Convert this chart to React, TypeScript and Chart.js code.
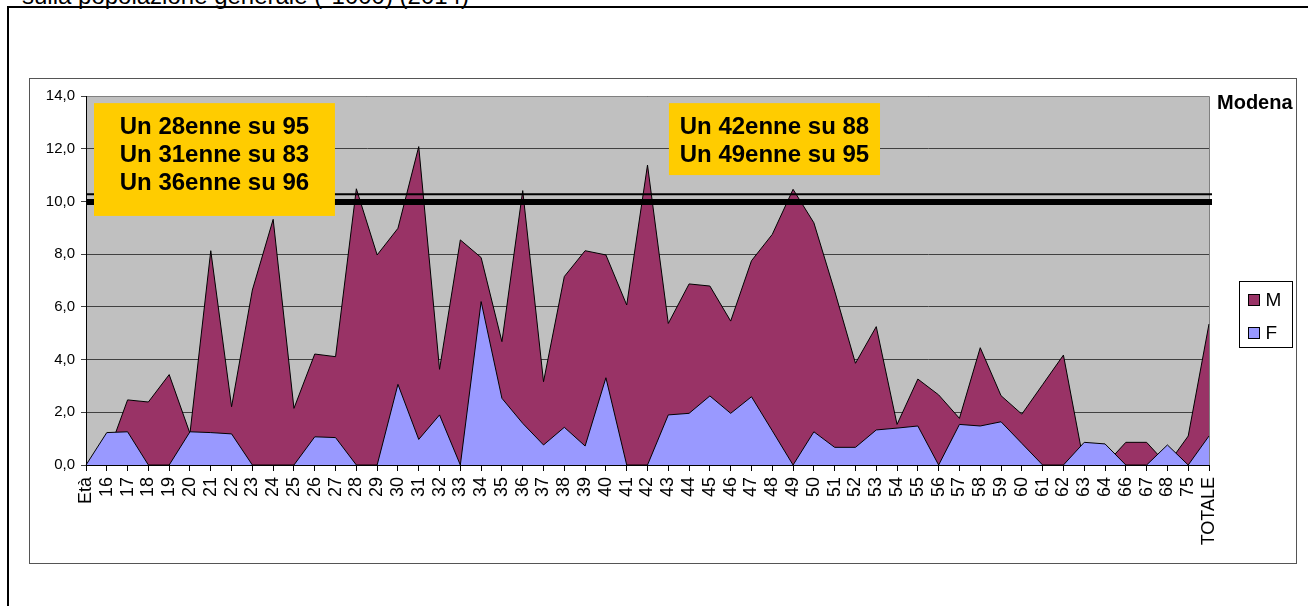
import React, { useEffect, useRef } from 'react';
import { Chart, registerables } from 'chart.js';

Chart.register(...registerables);

// ---------------- data ----------------
const CATEGORIES = [
  'Età', '16', '17', '18', '19', '20', '21', '22', '23', '24', '25', '26', '27', '28', '29', '30',
  '31', '32', '33', '34', '35', '36', '37', '38', '39', '40', '41', '42', '43', '44', '45', '46',
  '47', '48', '49', '50', '51', '52', '53', '54', '55', '56', '57', '58', '59', '60', '61', '62',
  '63', '64', '66', '67', '68', '75', 'TOTALE',
];

const M_VALUES = [
  0, 0.3, 2.47, 2.39, 3.43, 1.2, 8.13, 2.21, 6.64, 9.32, 2.15, 4.21, 4.11, 10.48, 7.97, 8.98,
  12.08, 3.63, 8.54, 7.87, 4.68, 10.41, 3.16, 7.15, 8.13, 7.97, 6.07, 11.38, 5.37, 6.87, 6.79, 5.46,
  7.75, 8.75, 10.46, 9.19, 6.6, 3.86, 5.25, 1.54, 3.26, 2.66, 1.77, 4.45, 2.63, 1.93, 3.05, 4.17,
  0, 0, 0.86, 0.86, 0, 1.1, 5.35,
];

const F_VALUES = [
  0, 1.23, 1.26, 0, 0, 1.26, 1.23, 1.18, 0, 0, 0, 1.07, 1.04, 0, 0, 3.06,
  0.97, 1.9, 0, 6.2, 2.53, 1.58, 0.76, 1.43, 0.72, 3.31, 0, 0, 1.9, 1.96, 2.62, 1.96,
  2.59, 1.3, 0, 1.26, 0.67, 0.67, 1.33, 1.4, 1.48, 0, 1.54, 1.48, 1.64, 0.82, 0, 0,
  0.86, 0.8, 0, 0, 0.76, 0, 1.1,
];

const SERIES_NAMES = ['M', 'F'];
const Y_MIN = 0;
const Y_MAX = 14;
const Y_STEP = 2;
const REF_THIN_VALUE = 10.27;
const REF_THICK_VALUE = 9.98;
const PLACE_LABEL = 'Modena';
const NOTE_LEFT = ['Un 28enne su 95', 'Un 31enne su 83', 'Un 36enne su 96'];
const NOTE_RIGHT = ['Un 42enne su 88', 'Un 49enne su 95'];
const TITLE_TEXT = 'sulla popolazione generale (*1000) (2014)';

// ---------------- styles / layout ----------------
const FONT = "'Liberation Sans', Arial, Helvetica, sans-serif";
const COLOR_M = '#993366';
const COLOR_F = '#9999FF';
const PLOT_BG = '#C0C0C0';
const NOTE_BG = '#FFCC00';

// note boxes expressed in data units (category index, value)
const NOTE_BOXES = [
  { lines: NOTE_LEFT, x0: 0.385, x1: 11.97, y0: 9.45, y1: 13.73 },
  { lines: NOTE_RIGHT, x0: 28.03, x1: 38.18, y0: 11.0, y1: 13.73 },
];

const decorPlugin = {
  id: 'decor',
  beforeDraw(chart: any) {
    const { ctx, chartArea: a } = chart;
    ctx.save();
    ctx.fillStyle = PLOT_BG;
    ctx.fillRect(a.left, a.top, a.right - a.left, a.bottom - a.top);
    ctx.restore();
  },
  beforeDatasetsDraw(chart: any) {
    const { ctx, chartArea: a } = chart;
    ctx.save();
    ctx.strokeStyle = '#808080';
    ctx.lineWidth = 1;
    ctx.beginPath();
    ctx.moveTo(a.left, a.top + 0.5);
    ctx.lineTo(a.right + 0.5, a.top + 0.5);
    ctx.lineTo(a.right + 0.5, a.bottom);
    ctx.stroke();
    ctx.restore();
  },
  afterDatasetsDraw(chart: any) {
    const { ctx, chartArea: a, scales } = chart;
    const y = scales.y;
    ctx.save();
    // axis lines
    ctx.strokeStyle = '#000';
    ctx.lineWidth = 1;
    ctx.beginPath();
    ctx.moveTo(Math.round(a.left) + 0.5, a.top);
    ctx.lineTo(Math.round(a.left) + 0.5, Math.round(a.bottom) + 0.5);
    ctx.lineTo(a.right + 0.5, Math.round(a.bottom) + 0.5);
    ctx.stroke();
    // reference lines
    const yThin = y.getPixelForValue(REF_THIN_VALUE);
    ctx.lineWidth = 2;
    ctx.beginPath();
    ctx.moveTo(a.left, yThin);
    ctx.lineTo(a.right + 3, yThin);
    ctx.stroke();
    const yThick = y.getPixelForValue(REF_THICK_VALUE);
    ctx.lineWidth = 6;
    ctx.beginPath();
    ctx.moveTo(a.left, yThick);
    ctx.lineTo(a.right + 3, yThick);
    ctx.stroke();
    ctx.restore();
  },
  afterDraw(chart: any) {
    const { ctx, chartArea: a, scales } = chart;
    const x = scales.x;
    const y = scales.y;
    ctx.save();
    // note boxes
    NOTE_BOXES.forEach((b) => {
      const l = x.getPixelForValue(b.x0);
      const r = x.getPixelForValue(b.x1);
      const t = y.getPixelForValue(b.y1);
      const bt = y.getPixelForValue(b.y0);
      ctx.fillStyle = NOTE_BG;
      ctx.fillRect(l, t, r - l, bt - t);
      ctx.fillStyle = '#000';
      ctx.font = `bold 24px ${FONT}`;
      ctx.textAlign = 'center';
      ctx.textBaseline = 'alphabetic';
      b.lines.forEach((line, i) => {
        ctx.fillText(line, (l + r) / 2, t + 31 + i * 28);
      });
    });
    // place label
    ctx.fillStyle = '#000';
    ctx.font = `bold 20px ${FONT}`;
    ctx.textAlign = 'left';
    ctx.textBaseline = 'alphabetic';
    ctx.fillText(PLACE_LABEL, a.right + 8, a.top + 12.5);
    // legend
    const lx = Math.round(a.right + 30) + 0.5;
    const ly = Math.round(a.top + 185) + 0.5;
    ctx.fillStyle = '#fff';
    ctx.fillRect(lx, ly, 53, 66);
    ctx.strokeStyle = '#000';
    ctx.lineWidth = 1;
    ctx.strokeRect(lx, ly, 53, 66);
    const ds = chart.data.datasets;
    ds.forEach((d: any, i: number) => {
      const sy = Math.round(ly + 12 + i * 33.5) + 0.5;
      ctx.fillStyle = d.backgroundColor;
      ctx.fillRect(lx + 9, sy, 11, 11);
      ctx.strokeStyle = '#000';
      ctx.strokeRect(lx + 9, sy, 11, 11);
      ctx.fillStyle = '#000';
      ctx.font = `19px ${FONT}`;
      ctx.textBaseline = 'middle';
      ctx.textAlign = 'left';
      ctx.fillText(d.label, lx + 26, sy + 6.5);
    });
    ctx.restore();
  },
};

export default function App() {
  const ref = useRef<HTMLCanvasElement>(null);

  useEffect(() => {
    if (!ref.current) return;
    Chart.defaults.font.family = FONT;
    const chart = new Chart(ref.current, {
      type: 'line',
      data: {
        labels: CATEGORIES,
        datasets: [
          {
            label: SERIES_NAMES[0],
            data: M_VALUES,
            backgroundColor: COLOR_M,
            borderColor: '#000',
            borderWidth: 1,
            fill: 'origin',
            pointRadius: 0,
            tension: 0,
            borderJoinStyle: 'miter',
            order: 1,
          },
          {
            label: SERIES_NAMES[1],
            data: F_VALUES,
            backgroundColor: COLOR_F,
            borderColor: '#000',
            borderWidth: 1,
            fill: 'origin',
            pointRadius: 0,
            tension: 0,
            borderJoinStyle: 'miter',
            order: 0,
          },
        ],
      },
      options: {
        animation: false,
        responsive: false,
        devicePixelRatio: 1,
        events: [],
        layout: { padding: { top: 17, right: 87, left: 0, bottom: 0 } },
        plugins: {
          legend: { display: false },
          tooltip: { enabled: false },
          title: { display: false },
        },
        scales: {
          x: {
            type: 'category',
            offset: false,
            grid: {
              display: true,
              drawOnChartArea: false,
              drawTicks: true,
              tickLength: 6,
              color: '#000',
            },
            border: { display: true, color: '#000' },
            ticks: {
              autoSkip: false,
              minRotation: 90,
              maxRotation: 90,
              padding: 6,
              color: '#000',
              font: { size: 18, family: FONT },
            },
            afterFit: (s: any) => {
              s.height = 98;
            },
          },
          y: {
            min: Y_MIN,
            max: Y_MAX,
            ticks: {
              stepSize: Y_STEP,
              padding: 6,
              color: '#000',
              font: { size: 15, family: FONT },
              callback: (v: any) => Number(v).toFixed(1).replace('.', ','),
            },
            grid: {
              color: '#404040',
              lineWidth: 1,
              tickLength: 5,
              drawTicks: true,
            },
            border: { display: true, color: '#000' },
            afterFit: (s: any) => {
              s.width = 56;
            },
          },
        },
      },
      plugins: [decorPlugin],
    } as any);
    return () => chart.destroy();
  }, []);

  return (
    <div
      style={{
        position: 'absolute',
        left: 0,
        top: 0,
        width: 1308,
        height: 606,
        overflow: 'hidden',
        background: '#fff',
        fontFamily: FONT,
      }}
    >
      <div
        style={{
          position: 'absolute',
          left: 22,
          top: -16,
          fontSize: 24,
          lineHeight: '24px',
          whiteSpace: 'nowrap',
          color: '#000',
        }}
      >
        {TITLE_TEXT}
      </div>
      <div
        style={{
          position: 'absolute',
          left: 7,
          top: 6,
          width: 1400,
          height: 700,
          border: '2px solid #000',
        }}
      />
      <div
        style={{
          position: 'absolute',
          left: 29,
          top: 78,
          width: 1268,
          height: 486,
          border: '1px solid #555',
          boxSizing: 'border-box',
          background: '#fff',
        }}
      >
        <canvas ref={ref} width={1266} height={484} style={{ display: 'block' }} />
      </div>
    </div>
  );
}
